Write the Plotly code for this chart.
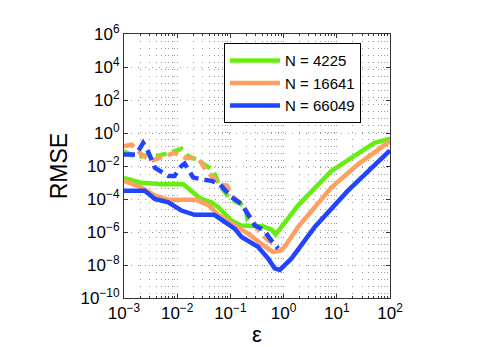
import plotly.graph_objects as go

# epsilon / RMSE values
labels = ["N = 4225", "N = 16641", "N = 66049"]
colors = ["#66ee11", "#ffa060", "#2244ff"]

x_tickvals = [1e-3, 1e-2, 1e-1, 1, 10, 100]
x_ticktext = ["10<sup>−3</sup>", "10<sup>−2</sup>", "10<sup>−1</sup>", "10<sup>0</sup>",
              "10<sup>1</sup>", "10<sup>2</sup>"]
y_tickvals = [1e-10, 1e-8, 1e-6, 1e-4, 1e-2, 1, 1e2, 1e4, 1e6]
y_ticktext = ["10<sup>−10</sup>", "10<sup>−8</sup>", "10<sup>−6</sup>", "10<sup>−4</sup>",
              "10<sup>−2</sup>", "10<sup>0</sup>", "10<sup>2</sup>", "10<sup>4</sup>",
              "10<sup>6</sup>"]

# solid curves
eps_g = [0.001, 0.002, 0.005, 0.013, 0.02, 0.028, 0.044, 0.059, 0.105, 0.158, 0.4, 0.6, 0.71,
         1.86, 7.9, 25, 51, 100]
rmse_g = [1.9e-3, 1.0e-3, 7.9e-4, 7.9e-4, 2.5e-4, 1.0e-4, 6.3e-5, 3.2e-5, 5.0e-6, 2.5e-6, 2.2e-6,
          1.4e-6, 7.1e-7, 4.0e-5, 5.0e-3, 6.3e-2, 0.25, 0.45]

eps_o = [0.001, 0.00214, 0.0038, 0.0068, 0.023, 0.04, 0.059, 0.105, 0.214, 0.436, 0.63, 0.85, 1.05,
         1.86, 7.9, 25, 50, 100]
rmse_o = [1.26e-3, 5.0e-4, 1.6e-4, 8.9e-5, 8.9e-5, 4.0e-5, 1.1e-5, 3.2e-6, 7.9e-7, 1.4e-7, 6.3e-8,
          7.1e-8, 1.26e-7, 2.0e-6, 5.0e-4, 1.26e-2, 6.3e-2, 0.32]

eps_b = [0.001, 0.00245, 0.0038, 0.0068, 0.012, 0.0214, 0.05, 0.079, 0.12, 0.162, 0.33, 0.51, 0.68,
         0.85, 1.05, 1.41, 3.85, 16.2, 100]
rmse_b = [3.2e-4, 3.2e-4, 1.0e-4, 6.3e-5, 2.0e-5, 1.1e-5, 1.1e-5, 4.0e-6, 1.6e-6, 5.0e-7, 1.26e-7,
          2.5e-8, 6.3e-9, 5.0e-9, 1.0e-8, 2.5e-8, 2.0e-6, 3.2e-4, 8.7e-2]

# dashed curves
eps_gd = [0.001, 0.0017, 0.0028, 0.0041, 0.0072, 0.012, 0.016, 0.023, 0.047, 0.063, 0.1, 0.158,
          0.195, 0.21, 0.25]
rmse_gd = [7.9e-2, 3.2e-2, 5.0e-2, 4.0e-2, 6.3e-2, 0.11, 4.0e-2, 2.5e-2, 5.6e-3, 6.3e-4, 1.0e-4,
           5.0e-5, 2.5e-5, 5.0e-6, 2.5e-6]

eps_od = [0.001, 0.00138, 0.00214, 0.00324, 0.00575, 0.0089, 0.0138, 0.025, 0.0355, 0.063, 0.087,
          0.105, 0.162, 0.288, 0.38, 0.51, 0.71]
rmse_od = [0.158, 0.2, 0.05, 0.02, 0.04, 0.063, 0.032, 0.028, 5.0e-3, 7.9e-4, 6.3e-4, 1.6e-4,
           5.0e-5, 3.2e-6, 7.9e-7, 3.2e-7, 1.6e-7]

eps_bd = [0.001, 0.0017, 0.00229, 0.00282, 0.0038, 0.0068, 0.0089, 0.012, 0.0138, 0.02, 0.028,
          0.044, 0.063, 0.105, 0.162, 0.214, 0.288, 0.436, 0.55, 0.79]
rmse_bd = [0.05, 0.05, 0.25, 0.079, 7.9e-3, 2.5e-3, 2.5e-3, 0.01, 0.014, 2.0e-3, 1.6e-3, 1.26e-3,
           7.9e-4, 1.26e-4, 5.0e-5, 1.26e-5, 2.5e-6, 1.26e-6, 4.0e-7, 1.0e-7]

solid = [(eps_g, rmse_g), (eps_o, rmse_o), (eps_b, rmse_b)]
dashed = [(eps_gd, rmse_gd), (eps_od, rmse_od), (eps_bd, rmse_bd)]

fig = go.Figure()
for i, (x, y) in enumerate(solid):
    fig.add_trace(go.Scatter(x=x, y=y, mode="lines", name=labels[i],
                             line=dict(color=colors[i], width=4.5)))
for i, (x, y) in enumerate(dashed):
    fig.add_trace(go.Scatter(x=x, y=y, mode="lines", name=labels[i], showlegend=False,
                             line=dict(color=colors[i], width=4.5, dash="11px,6px")))

font = "Liberation Sans, Arial, sans-serif"
axis_common = dict(type="log", showline=True, linecolor="#333333",
                   linewidth=1, mirror="ticks", ticks="inside", ticklen=4, tickcolor="#333333",
                   showgrid=True, gridcolor="#999999", griddash="1px,6px", gridwidth=1,
                   zeroline=False, tickfont=dict(size=17, color="black", family=font))

fig.update_xaxes(range=[-3, 2], tickmode="array", tickvals=x_tickvals, ticktext=x_ticktext,
                 minor=dict(dtick="D1", showgrid=True, gridcolor="#999999", griddash="1px,6px",
                            ticks="inside", ticklen=2, tickcolor="#333333"),
                 title=dict(text="ε", font=dict(size=22, color="black", family=font), standoff=4),
                 **axis_common)
fig.update_yaxes(range=[-10, 6], tickmode="array", tickvals=y_tickvals, ticktext=y_ticktext,
                 title=dict(text="RMSE", font=dict(size=23, color="black", family=font), standoff=6),
                 **axis_common)

fig.update_layout(
    width=480, height=347,
    margin=dict(l=116, r=98, t=26, b=55),
    paper_bgcolor="white", plot_bgcolor="white",
    font=dict(family=font, color="black"),
    legend=dict(x=0.376, y=0.965, xanchor="left", yanchor="top", bgcolor="white",
                bordercolor="black", borderwidth=1, font=dict(size=15, family=font),
                itemwidth=50),
)

fig.write_html("out.html")
